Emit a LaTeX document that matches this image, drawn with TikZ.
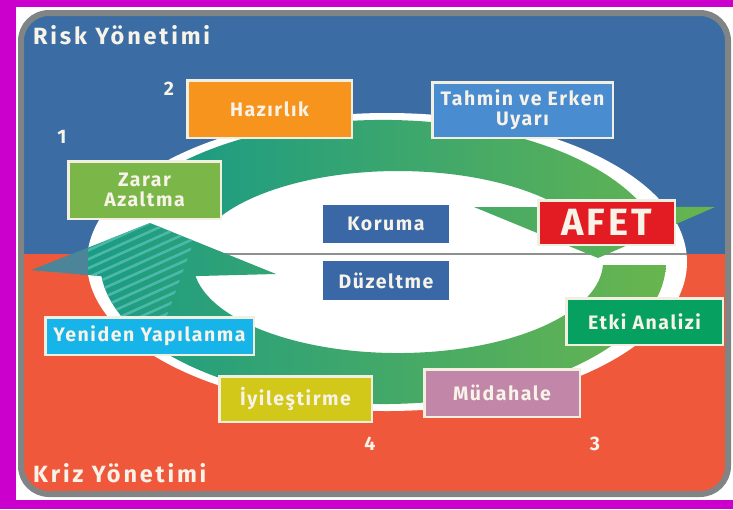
\documentclass[tikz,border=0pt]{standalone}
\usepackage{fontspec}
\newfontfamily\dinf{Fira Sans}[LetterSpace=8]
\newfontfamily\dinw{Fira Sans}[LetterSpace=12]
\newcommand\lblf{\dinf\bfseries\fontsize{19.5}{20}\selectfont}
\newcommand\bigf{\dinw\bfseries\fontsize{23.5}{25}\selectfont}
\newcommand\afetf{\dinf\bfseries\fontsize{38}{40}\selectfont}
\definecolor{mag}{HTML}{CC00CC}
\definecolor{bgblue}{HTML}{3B6DA4}
\definecolor{bgred}{HTML}{F0583C}
\definecolor{framegrey}{HTML}{808484}
\definecolor{txt}{HTML}{F7F3E8}
\definecolor{edge}{HTML}{F2EFE0}
\definecolor{cHaz}{HTML}{F7941D}
\definecolor{cTah}{HTML}{4A8CD0}
\definecolor{cZar}{HTML}{7AB648}
\definecolor{cKor}{HTML}{3A68A6}
\definecolor{cAfet}{HTML}{E31B23}
\definecolor{cEtki}{HTML}{06A061}
\definecolor{cMud}{HTML}{C186A8}
\definecolor{cIyi}{HTML}{D2C81A}
\definecolor{cYen}{HTML}{17B4EA}
\definecolor{tealA}{HTML}{13998A}
\definecolor{tealB}{HTML}{5A9A7E}
\definecolor{greenA}{HTML}{68B54E}
\definecolor{botM}{HTML}{1FA876}
\definecolor{stripecol}{HTML}{4CB8AA}
\definecolor{barbcol}{HTML}{4C8599}
\definecolor{lineg}{HTML}{8E9090}
\newcommand\topband{(114.6,216.9) arc[start angle=198.5, end angle=337.2, x radius=283, y radius=142]
  -- (715,207) -- (598,258) -- (474,207) -- (561.3,207)
  arc[start angle=322.8, end angle=209.6, x radius=205, y radius=91] -- cycle}
\newcommand\botband{(665.9,265) arc[start angle=1.2, end angle=174.3, x radius=283, y radius=142]
  -- (32,270) -- (150,223) -- (276,274) -- (195.5,276.1)
  arc[start angle=171.1, end angle=1.9, x radius=205, y radius=91] -- cycle}
\begin{document}
\begin{tikzpicture}[x=1pt,y=-1pt,
  box/.style={draw=edge, line width=2.5pt, text=txt, inner sep=0pt, align=center, font=\lblf},
  flat/.style={fill=cKor, text=txt, inner sep=0pt, align=center, font=\lblf},
  numlbl/.style={text=txt, inner sep=0pt, font=\lblf, anchor=base},
  headlbl/.style={text=txt, inner sep=0pt, font=\bigf, anchor=base west}]
\useasboundingbox (0,0) rectangle (733,509);
\fill[mag] (0,0) rectangle (733,509);
\fill[white] (16,7) rectangle (733,500);
\begin{scope}
  \clip[rounded corners=28pt] (21,13) rectangle (728,494);
  \fill[bgblue] (0,0) rectangle (733,254);
  \fill[bgred] (0,254) rectangle (733,509);
\end{scope}
\draw[framegrey, line width=6pt, rounded corners=28pt] (21,13) rectangle (728,494);
% white oval
\fill[white] (387,262) ellipse [x radius=300, y radius=149];
\draw[lineg, line width=1.5pt] (88,254) -- (687,254);
% arrows
\shade[left color=tealA, middle color=tealB, right color=greenA] \topband;
\shade[left color=tealA, middle color=botM, right color=greenA] \botband;
\begin{scope}
  \clip \botband;
  \clip (20,210) -- (205,210) -- (160,335) -- (20,335) -- cycle;
  \foreach \k in {0,...,26} {
    \draw[stripecol, line width=2.6pt] (0,{200+\k*9}) -- (260,{83+\k*9});
  }
\end{scope}
\begin{scope}
  \clip \botband;
  \fill[barbcol] (0,200) rectangle (88,300);
\end{scope}
% boxes
\node[box, fill=cHaz, minimum width=164.5pt, minimum height=57.5pt] (haz) at (269.5,109) {Hazırlık};
\node[box, fill=cTah, minimum width=180.5pt, minimum height=55.5pt] (tah) at (522.5,110) {Tahmin ve Erken\\Uyarı};
\node[box, fill=cZar, minimum width=152.5pt, minimum height=57.5pt] (zar) at (144.5,190) {Zarar\\Azaltma};
\node[flat, minimum width=126pt, minimum height=38pt] (kor) at (386,224) {Koruma};
\node[flat, minimum width=126pt, minimum height=39pt] (duz) at (386,280.5) {Düzeltme};
\node[box, fill=cAfet, minimum width=136.5pt, minimum height=44.5pt, font=\afetf] (afet) at (606.5,222.5) {AFET};
\node[box, fill=cEtki, minimum width=156.5pt, minimum height=46.5pt] (etki) at (644.5,321.5) {Etki Analizi};
\node[box, fill=cMud, minimum width=155.5pt, minimum height=47.5pt] (mud) at (502,393) {Müdahale};
\node[box, fill=cIyi, minimum width=152.5pt, minimum height=45.5pt] (iyi) at (295.5,399) {İyileştirme};
\node[box, fill=cYen, minimum width=208.5pt, minimum height=37.5pt] (yen) at (149.5,336) {Yeniden Yapılanma};
% numbers and headings
\node[numlbl] (n1) at (62,143) {1};
\node[numlbl] (n2) at (169,95) {2};
\node[numlbl] (n3) at (595,450) {3};
\node[numlbl] (n4) at (370,450) {4};
\node[headlbl] (risk) at (33,44) {Risk Yönetimi};
\node[headlbl] (kriz) at (33,482) {Kriz Yönetimi};
\end{tikzpicture}
\end{document}
